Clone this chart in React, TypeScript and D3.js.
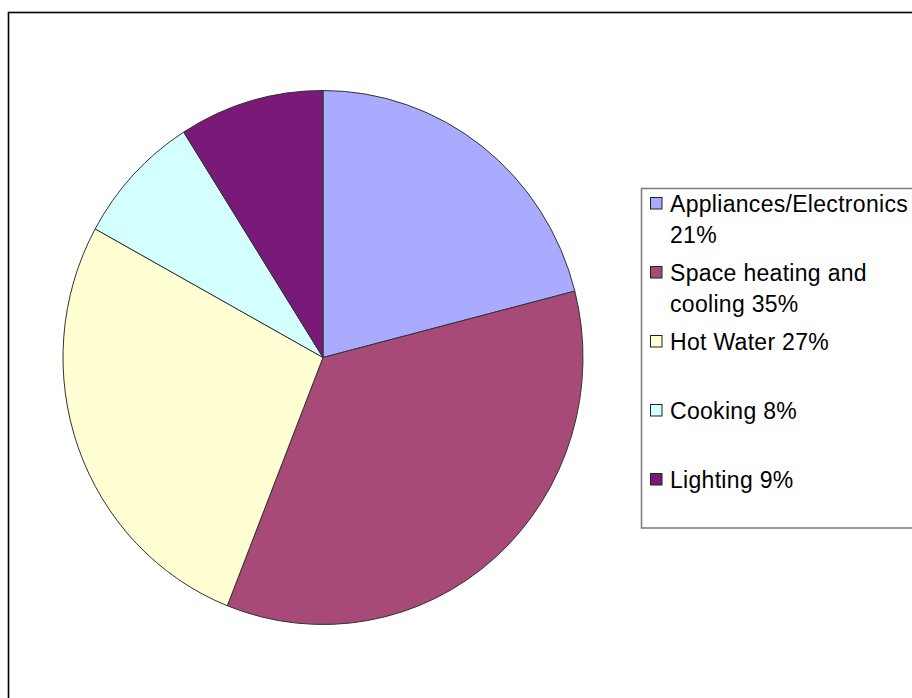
import { useEffect, useRef } from 'react'
import * as d3 from 'd3'

const categories = ['Appliances/Electronics', 'Space heating and', 'Hot Water', 'Cooking', 'Lighting']
const labelLines = [
  ['Appliances/Electronics', '21%'],
  ['Space heating and', 'cooling 35%'],
  ['Hot Water 27%'],
  ['Cooking 8%'],
  ['Lighting 9%'],
]
const values = [21, 35, 27, 8, 9]
const colors = ['#AAAAFF', '#A84A77', '#FFFFD3', '#D4FFFF', '#7A1A78']

export default function App() {
  const ref = useRef<SVGSVGElement>(null)

  useEffect(() => {
    const svg = d3.select(ref.current)
    svg.selectAll('*').remove()

    const cx = 323
    const cy = 357.5
    const rx = 260
    const ry = 267

    // outer chart frame, runs off the right and bottom edges
    svg
      .append('rect')
      .attr('x', 8.5)
      .attr('y', 12.5)
      .attr('width', 960)
      .attr('height', 760)
      .attr('fill', '#fff')
      .attr('stroke', '#000')
      .attr('stroke-width', 1.6)

    const pie = d3
      .pie<number>()
      .sort(null)
      .value((d) => d)
    const arcs = pie(values)
    const arc = d3.arc<d3.PieArcDatum<number>>().innerRadius(0).outerRadius(ry)

    const g = svg
      .append('g')
      .attr('transform', `translate(${cx},${cy}) scale(${rx / ry},1)`)

    g.selectAll('path')
      .data(arcs)
      .enter()
      .append('path')
      .attr('d', arc)
      .attr('fill', (d, i) => colors[i])
      .attr('stroke', '#333')
      .attr('stroke-width', 1)
      .attr('vector-effect', 'non-scaling-stroke')

    // legend
    const lx = 641.5
    const ly = 188.5
    svg
      .append('rect')
      .attr('x', lx)
      .attr('y', ly)
      .attr('width', 300)
      .attr('height', 528 - ly)
      .attr('fill', '#fff')
      .attr('stroke', '#808080')
      .attr('stroke-width', 1.6)

    const y = d3
      .scaleLinear()
      .domain([0, categories.length - 1])
      .range([212, 488])

    const items = svg
      .selectAll('.legend-item')
      .data(categories)
      .enter()
      .append('g')
      .attr('class', 'legend-item')
      .attr('transform', (d, i) => `translate(0,${y(i)})`)

    items
      .append('rect')
      .attr('x', 650.5)
      .attr('y', -14.5)
      .attr('width', 11.5)
      .attr('height', 11.5)
      .attr('fill', (d, i) => colors[i])
      .attr('stroke', '#222')
      .attr('stroke-width', 1)

    items
      .append('text')
      .attr('font-family', 'Liberation Sans, Arial, sans-serif')
      .attr('font-size', 23)
      .attr('letter-spacing', 0.3)
      .attr('fill', '#000')
      .selectAll('tspan')
      .data((d, i) => labelLines[i])
      .enter()
      .append('tspan')
      .attr('x', 670)
      .attr('y', (d, j) => j * 30.5)
      .text((d) => d)
  }, [])

  return (
    <svg
      ref={ref}
      width={912}
      height={698}
      style={{ position: 'absolute', left: 0, top: 0, display: 'block' }}
    />
  )
}
